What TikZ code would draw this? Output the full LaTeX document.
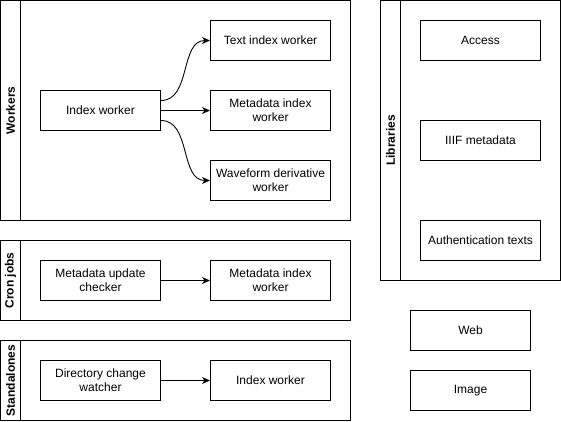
\documentclass[tikz,border=0pt]{standalone}
\usepackage{fontspec}
\setmainfont{Liberation Sans}
\usetikzlibrary{arrows.meta}
\begin{document}
\begin{tikzpicture}[x=1pt, y=-1pt, line width=1pt,
					font=\fontsize{12}{14}\selectfont,
					box/.style = {draw, rectangle, minimum width=120pt, minimum height=40pt, align=center, inner sep=2pt},
					pool/.style = {draw, rectangle, inner sep=0pt},
					header/.style = {rotate=90, font=\fontsize{12}{14}\selectfont\bfseries},
					link/.style = {-{Stealth[length=8pt,width=7pt,inset=2.5pt]}, line width=0.9pt}]
					
					\useasboundingbox (-0.5,-0.5) rectangle (560.5,420.5);
					
					% pools
					\node[pool, minimum width=350pt, minimum height=220pt] (workers) at (175,110) {};
					\node[pool, minimum width=350pt, minimum height=80pt] (cron) at (175,280) {};
					\node[pool, minimum width=350pt, minimum height=80pt] (alone) at (175,380) {};
					\node[pool, minimum width=180pt, minimum height=280pt] (libs) at (470,140) {};
					
					\draw (20,0) -- (20,220);
					\draw (20,240) -- (20,320);
					\draw (20,340) -- (20,420);
					\draw (400,0) -- (400,280);
					
					\node[header] (workerslbl) at (10,110) {Workers};
					\node[header] (cronlbl) at (10,280) {Cron jobs};
					\node[header] (alonelbl) at (10,380) {Standalones};
					\node[header] (libslbl) at (390,140) {Libraries};
					
					% workers
					\node[box] (iw) at (100,110) {Index worker};
					\node[box] (tiw) at (270,40) {Text index worker};
					\node[box] (miw) at (270,110) {Metadata index\\worker};
					\node[box] (wdw) at (270,180) {Waveform derivative\\worker};
					
					\draw[link] ([yshift=10pt]iw.east) to[out=0, in=180] (tiw.west);
					\draw[link] (iw) -- (miw);
					\draw[link] ([yshift=-10pt]iw.east) to[out=0, in=180] (wdw.west);
					
					% cron jobs
					\node[box] (muc) at (100,280) {Metadata update\\checker};
					\node[box] (miw2) at (270,280) {Metadata index\\worker};
					\draw[link] (muc) -- (miw2);
					
					% standalones
					\node[box] (dcw) at (100,380) {Directory change\\watcher};
					\node[box] (iw2) at (270,380) {Index worker};
					\draw[link] (dcw) -- (iw2);
					
					% libraries
					\node[box] (acc) at (480,40) {Access};
					\node[box] (iiif) at (480,140) {IIIF metadata};
					\node[box] (auth) at (480,240) {Authentication texts};
					
					\node[box] (web) at (470,330) {Web};
					\node[box] (img) at (470,390) {Image};
				\end{tikzpicture}
\end{document}
